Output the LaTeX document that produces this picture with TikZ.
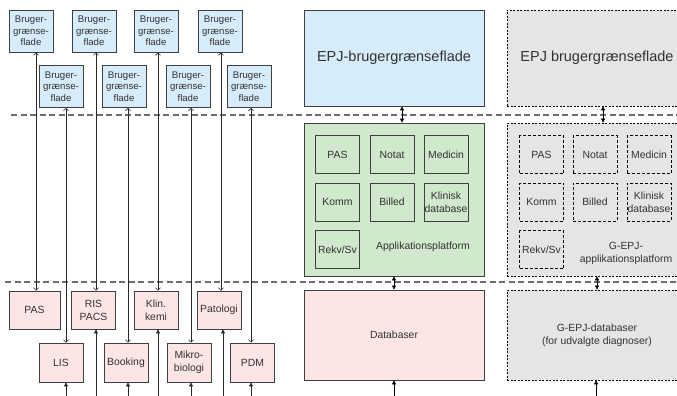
\documentclass[tikz,border=0pt]{standalone}
\usepackage{fontspec}
\setmainfont{Liberation Sans}
\usetikzlibrary{arrows.meta}
\definecolor{bblue}{RGB}{214,236,250}
\definecolor{bgreen}{RGB}{208,232,204}
\definecolor{bpink}{RGB}{252,229,229}
\definecolor{bgray}{RGB}{229,229,229}
\definecolor{edge}{RGB}{64,64,64}
\definecolor{txt}{RGB}{50,50,50}
\definecolor{sepc}{RGB}{110,110,110}
\definecolor{linec}{RGB}{40,40,40}
\begin{document}
\begin{tikzpicture}[x=1pt,y=-1pt,
  box/.style={draw=edge, line width=0.8pt, inner sep=0pt, align=center, text=txt,
              font=\fontsize{10.4}{13}\selectfont},
  ui/.style={box, fill=bblue, minimum width=44pt, minimum height=42pt,
             font=\fontsize{9.6}{11.7}\selectfont},
  sys/.style={box, fill=bpink, minimum width=44pt, minimum height=38pt},
  big/.style={box, minimum width=180pt},
  gbig/.style={big, draw=black, fill=bgray, line width=0.7pt, dash pattern=on 2pt off 1.5pt},
  mod/.style={box, fill=bgreen, minimum width=44pt, minimum height=38pt},
  gmod/.style={mod, fill=bgray, draw=black, line width=0.7pt, dash pattern=on 3pt off 2pt},
  lbl/.style={inner sep=0pt, align=center, text=txt, font=\fontsize{10.4}{13}\selectfont},
  sepline/.style={draw=sepc, line width=1.4pt, dash pattern=on 6pt off 3.5pt},
  link/.style={draw=linec, line width=0.6pt,
     {Straight Barb[length=2.5pt,width=5pt]}-{Straight Barb[length=2.5pt,width=5pt]}},
  feed/.style={draw=linec, line width=0.6pt, -{Triangle[length=4pt,width=4pt]}},
  dbl/.style={draw=black, line width=0.6pt,
     {Triangle[length=4pt,width=4pt]}-{Triangle[length=4pt,width=4pt]}}
]
\useasboundingbox (0,0) rectangle (677,396);
\clip (0,0) rectangle (677,396);

% separators
\coordinate (s1a) at (11,115);
\coordinate (s1b) at (677,115);
\coordinate (s2a) at (5,282);
\coordinate (s2b) at (677,282);
\draw[sepline] (s1a) -- (s1b);
\draw[sepline] (s2a) -- (s2b);

% user interfaces
\node[ui] (t1) at (31,31) {Bruger-\\grænse-\\flade};
\node[ui] (t2) at (94,31) {Bruger-\\grænse-\\flade};
\node[ui] (t3) at (156,31) {Bruger-\\grænse-\\flade};
\node[ui] (t4) at (220,31) {Bruger-\\grænse-\\flade};
\node[ui] (u1) at (61,86.5) {Bruger-\\grænse-\\flade};
\node[ui] (u2) at (124,86.5) {Bruger-\\grænse-\\flade};
\node[ui] (u3) at (188,86.5) {Bruger-\\grænse-\\flade};
\node[ui] (u4) at (249,86.5) {Bruger-\\grænse-\\flade};

% systems
\node[sys, minimum width=51pt] (pas) at (34.5,310) {PAS};
\node[sys] (ris) at (93.5,310) {RIS\\PACS};
\node[sys] (klin) at (156,310) {Klin.\\kemi};
\node[sys] (pat) at (219,310) {Patologi};
\node[sys, minimum height=39pt] (lis) at (61,362.5) {LIS};
\node[sys, minimum height=39pt] (book) at (126,362.5) {Booking};
\node[sys, minimum height=39pt] (mik) at (189,362.5) {Mikro-\\biologi};
\node[sys, minimum height=39pt] (pdm) at (252.5,362.5) {PDM};

% x positions
\coordinate (x36) at (36,0);
\coordinate (x66) at (66,0);
\coordinate (x96) at (96,0);
\coordinate (x128) at (128,0);
\coordinate (x158) at (158,0);
\coordinate (x191) at (191,0);
\coordinate (x221) at (221,0);
\coordinate (x251) at (251,0);
\coordinate (b66) at (66,397);
\coordinate (b96) at (96,397);
\coordinate (b128) at (128,397);
\coordinate (b158) at (158,397);
\coordinate (b191) at (191,397);
\coordinate (b223) at (223,397);
\coordinate (b251) at (251,397);

\draw[link] (t1.south -| x36) -- (pas.north -| x36);
\draw[link] (u1.south -| x66) -- (lis.north -| x66);
\draw[link] (t2.south -| x96) -- (ris.north -| x96);
\draw[link] (u2.south -| x128) -- (book.north -| x128);
\draw[link] (t3.south -| x158) -- (klin.north -| x158);
\draw[link] (u3.south -| x191) -- (mik.north -| x191);
\draw[link] (t4.south -| x221) -- (pat.north -| x221);
\draw[link] (u4.south -| x251) -- (pdm.north -| x251);

\draw[feed] (b66) -- (b66 |- lis.south);
\draw[feed] (b96) -- (b96 |- ris.south);
\draw[feed] (b128) -- (b128 |- book.south);
\draw[feed] (b158) -- (b158 |- klin.south);
\draw[feed] (b191) -- (b191 |- mik.south);
\draw[feed] (b223) -- (b223 |- pat.south);
\draw[feed] (b251) -- (b251 |- pdm.south);

% EPJ column
\node[big, fill=bblue, minimum height=96pt, font=\fontsize{14.5}{17}\selectfont] (epj) at (394,58) {EPJ-brugergrænseflade};
\node[big, fill=bgreen, minimum height=153pt] (app) at (394,199.5) {};
\node[big, fill=bpink, minimum height=90pt] (db) at (394,335) {Databaser};

\node[mod] (m1) at (337.5,154.5) {PAS};
\node[mod] (m2) at (392,154.5) {Notat};
\node[mod] (m3) at (446,154.5) {Medicin};
\node[mod] (m4) at (337.5,202) {Komm};
\node[mod] (m5) at (392,202) {Billed};
\node[mod] (m6) at (446,202) {Klinisk\\database};
\node[mod] (m7) at (337.5,249.5) {Rekv/Sv};
\node[lbl] (applbl) at (423,247) {Applikationsplatform};

% G-EPJ column
\node[gbig, minimum height=96pt, font=\fontsize{14.5}{17}\selectfont] (gepj) at (597,58) {EPJ brugergrænseflade};
\node[gbig, minimum height=153pt] (gapp) at (597,199.5) {};
\node[gbig, minimum height=90pt] (gdb) at (597,335) {G-EPJ-databaser\\(for udvalgte diagnoser)};

\node[gmod] (g1) at (541.5,154.5) {PAS};
\node[gmod] (g2) at (595,154.5) {Notat};
\node[gmod] (g3) at (649,154.5) {Medicin};
\node[gmod] (g4) at (541.5,202) {Komm};
\node[gmod] (g5) at (595,202) {Billed};
\node[gmod] (g6) at (649,202) {Klinisk\\database};
\node[gmod] (g7) at (541.5,249.5) {Rekv/Sv};
\node[lbl] (gapplbl) at (626,253) {G-EPJ-\\applikationsplatform};

% connectors on the right
\coordinate (x402) at (402,0);
\coordinate (x394) at (394,0);
\coordinate (x603) at (603,0);
\coordinate (x597) at (597,0);
\coordinate (bdb) at (394,397);
\coordinate (bgdb) at (596,397);
\draw[dbl] (epj.south -| x402) -- (app.north -| x402);
\draw[dbl] (gepj.south -| x603) -- (gapp.north -| x603);
\draw[dbl] (app.south -| x394) -- (db.north -| x394);
\draw[dbl] (gapp.south -| x597) -- (gdb.north -| x597);
\draw[feed, draw=black] (bdb) -- (bdb |- db.south);
\draw[feed, draw=black] (bgdb) -- (bgdb |- gdb.south);
\end{tikzpicture}
\end{document}
